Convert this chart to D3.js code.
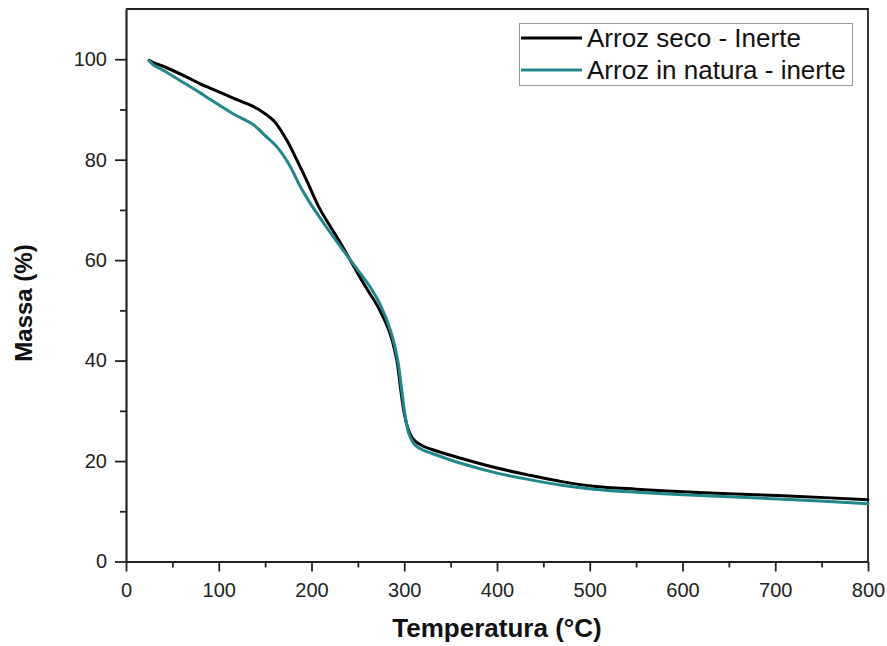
<!DOCTYPE html>
<html>
<head>
<meta charset="utf-8">
<script src="https://cdn.jsdelivr.net/npm/d3@7"></script>
<style>
    body { margin: 0; background: #fff; }
    svg { display: block; font-family: "Liberation Sans", Arial, sans-serif; }
    .axis path, .axis line { stroke: #222; }
    .axis text { fill: #222; }
</style>
</head>
<body>
<svg id="graph" width="887" height="646"></svg>
<script>
(function(){
    'use strict';

    // Temperatures (°C) and mass (%)
    var secoTemp = [25, 30, 40, 65, 80, 90, 115, 137, 148, 160, 173, 184, 195, 209, 230, 250, 260, 272, 285, 292, 296, 300, 304, 310, 320, 330, 360, 400, 432, 470, 504, 550, 612, 650, 720, 800];
    var secoMass = [99.8, 99.3, 98.6, 96.5, 95.1, 94.3, 92.3, 90.6, 89.4, 87.6, 84.0, 80.0, 75.8, 70.2, 63.8, 57.3, 54.2, 50.6, 45.2, 40.0, 34.5, 29.5, 26.5, 24.3, 23.0, 22.3, 20.6, 18.6, 17.3, 15.9, 15.0, 14.4, 13.8, 13.5, 13.0, 12.3];

    var naturaTemp = [25, 30, 40, 65, 80, 90, 115, 137, 150, 163, 176, 188, 197, 216, 230, 250, 262, 274, 286, 293, 297, 301, 305, 311, 320, 330, 360, 400, 435, 470, 504, 550, 612, 650, 720, 800];
    var naturaMass = [99.7, 98.8, 97.8, 95.0, 93.3, 92.1, 89.2, 87.0, 84.8, 82.5, 79.0, 74.6, 71.8, 66.6, 63.0, 58.0, 55.0, 51.2, 45.5, 40.0, 34.5, 29.0, 25.5, 23.3, 22.2, 21.5, 19.6, 17.6, 16.3, 15.2, 14.4, 13.8, 13.2, 12.9, 12.3, 11.5];

    var seriesNames = ['Arroz seco - Inerte', 'Arroz in natura - inerte'];
    var seriesColors = ['#000000', '#22878a'];

    var xMajor = [0, 100, 200, 300, 400, 500, 600, 700, 800];
    var xMinor = [50, 150, 250, 350, 450, 550, 650, 750];
    var yMajor = [0, 20, 40, 60, 80, 100];
    var yMinor = [10, 30, 50, 70, 90];

    var margin = { left: 126, top: 9, right: 19, bottom: 84.5 };
    var svg = d3.select('#graph');
    var width = 887 - margin.left - margin.right;
    var height = 646 - margin.top - margin.bottom;

    var xScale = d3.scaleLinear().domain([0, 800]).range([0, width]);
    var yScale = d3.scaleLinear().domain([0, 110]).range([height, 0]);

    var g = svg.append('g')
        .attr('transform', 'translate(' + margin.left + ',' + margin.top + ')');

    // Frame (top and right)
    g.append('path')
        .attr('d', 'M0,0H' + width + 'V' + height)
        .attr('fill', 'none')
        .attr('stroke', '#222')
        .attr('stroke-width', 1.8);

    // Minor ticks
    g.append('g')
        .attr('class', 'axis')
        .attr('transform', 'translate(0,' + height + ')')
        .call(d3.axisBottom(xScale).tickValues(xMinor).tickSize(6).tickFormat(''))
        .call(function(s){ s.select('.domain').remove(); })
        .selectAll('line').attr('stroke-width', 1.8);

    g.append('g')
        .attr('class', 'axis')
        .call(d3.axisLeft(yScale).tickValues(yMinor).tickSize(6).tickFormat(''))
        .call(function(s){ s.select('.domain').remove(); })
        .selectAll('line').attr('stroke-width', 1.8);

    // Major axes
    var xAxis = g.append('g')
        .attr('class', 'axis')
        .attr('transform', 'translate(0,' + height + ')')
        .call(d3.axisBottom(xScale).tickValues(xMajor).tickSize(10).tickSizeOuter(0).tickPadding(11));
    xAxis.select('.domain').attr('stroke-width', 2.2);
    xAxis.selectAll('line').attr('stroke-width', 1.8);
    xAxis.selectAll('text').attr('font-size', 20).attr('font-family', '"Liberation Sans", Arial, sans-serif');

    var yAxis = g.append('g')
        .attr('class', 'axis')
        .call(d3.axisLeft(yScale).tickValues(yMajor).tickSize(11).tickSizeOuter(0).tickPadding(8));
    yAxis.select('.domain').attr('stroke-width', 2.2);
    yAxis.selectAll('line').attr('stroke-width', 1.8);
    yAxis.selectAll('text').attr('font-size', 20).attr('font-family', '"Liberation Sans", Arial, sans-serif');

    // Curves
    var line = d3.line()
        .x(function(d) { return xScale(d[0]); })
        .y(function(d) { return yScale(d[1]); })
        .curve(d3.curveCatmullRom.alpha(0.5));

    var series = [
        d3.zip(secoTemp, secoMass),
        d3.zip(naturaTemp, naturaMass)
    ];

    series.forEach(function(data, i) {
        g.append('path')
            .datum(data)
            .attr('d', line)
            .attr('fill', 'none')
            .attr('stroke', seriesColors[i])
            .attr('stroke-width', 3)
            .attr('stroke-linejoin', 'round')
            .attr('stroke-linecap', 'round');
    });

    // Axis titles
    svg.append('text')
        .attr('x', margin.left + width / 2)
        .attr('y', 637)
        .attr('text-anchor', 'middle')
        .attr('font-size', 26)
        .attr('font-weight', 'bold')
        .attr('fill', '#111')
        .text('Temperatura (°C)');

    svg.append('text')
        .attr('transform', 'translate(32,303) rotate(-90)')
        .attr('text-anchor', 'middle')
        .attr('font-size', 24)
        .attr('font-weight', 'bold')
        .attr('fill', '#111')
        .text('Massa (%)');

    // Legend
    var legend = svg.append('g');
    legend.append('rect')
        .attr('x', 519.5).attr('y', 23.5)
        .attr('width', 333).attr('height', 62)
        .attr('fill', '#fff')
        .attr('stroke', '#999')
        .attr('stroke-width', 1);

    seriesNames.forEach(function(name, i) {
        var cy = 38 + i * 32;
        legend.append('line')
            .attr('x1', 521).attr('x2', 582)
            .attr('y1', cy).attr('y2', cy)
            .attr('stroke', seriesColors[i])
            .attr('stroke-width', 3);
        legend.append('text')
            .attr('x', 587)
            .attr('y', cy + 9)
            .attr('font-size', 26)
            .attr('fill', '#111')
            .text(name);
    });
})();
</script>
</body>
</html>
